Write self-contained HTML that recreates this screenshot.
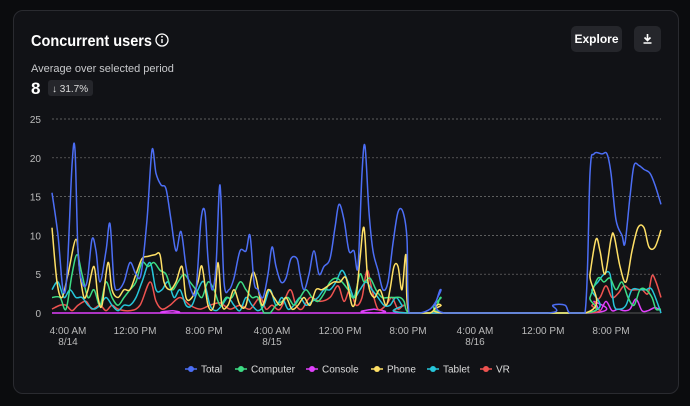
<!DOCTYPE html><html><head><style>
body{margin:0;background:#0b0c0e;width:690px;height:406px;overflow:hidden;font-family:"Liberation Sans",sans-serif;color:#fff}
.card{position:absolute;left:13px;top:10px;width:664px;height:382px;border:1px solid #2a2b30;border-radius:10px;background:#111216}
</style></head><body>
<div class="card"></div>
<svg width="690" height="406" style="position:absolute;left:0;top:0" id="s">
<text x="31" y="46" font-size="16" font-weight="bold" fill="#fff" textLength="121" lengthAdjust="spacingAndGlyphs">Concurrent users</text>
<circle cx="162" cy="40" r="6" fill="none" stroke="#fff" stroke-width="1.3"/>
<rect x="161.3" y="39" width="1.4" height="4" fill="#fff"/><circle cx="162" cy="36.8" r="0.9" fill="#fff"/>
<rect x="571" y="26" width="51" height="26" rx="5" fill="#25262b"/>
<text x="596.5" y="43" font-size="12" font-weight="bold" fill="#fff" text-anchor="middle">Explore</text>
<rect x="634" y="26" width="27" height="26" rx="5" fill="#25262b"/>
<path d="M647.5 34v6M644.5 37.5l3 3 3-3M643.5 43h8" stroke="#fff" stroke-width="1.6" fill="none"/>
<text x="31" y="72" font-size="11" fill="#c8c9cc">Average over selected period</text>
<text x="31" y="94" font-size="17" font-weight="bold" fill="#fff">8</text>
<rect x="48" y="80" width="45" height="16" rx="3" fill="#25262b"/>
<text x="52" y="92" font-size="10" fill="#ddd">↓ 31.7%</text>
<g id="g"></g>
</svg>
<script>
const g=document.getElementById('g');let h='';
const Y=v=>313-v*7.76;
[0,5,10,15,20,25].forEach(v=>{h+=`<text x="41" y="${Y(v)+4}" font-size="10" fill="#bbb" text-anchor="end">${v}</text>`;
if(v>0)h+=`<line x1="52" x2="661" y1="${Y(v)}" y2="${Y(v)}" stroke="#777" stroke-dasharray="2,2" stroke-width="0.7"/>`});
h+=`<line x1="52" x2="661" y1="313" y2="313" stroke="#555"/>`;
[[68,'4:00 AM','8/14'],[135,'12:00 PM'],[204,'8:00 PM'],[272,'4:00 AM','8/15'],[340,'12:00 PM'],[408,'8:00 PM'],[475,'4:00 AM','8/16'],[543,'12:00 PM'],[611,'8:00 PM']].forEach(a=>{
h+=`<text x="${a[0]}" y="334" font-size="10" fill="#bbb" text-anchor="middle">${a[1]}</text>`;if(a[2])h+=`<text x="${a[0]}" y="345" font-size="10" fill="#bbb" text-anchor="middle">${a[2]}</text>`});
const C=y=>Math.min(313,y);
function P(a){const p=[];for(let i=0;i<a.length;i+=2)p.push([a[i],Y(a[i+1])]);let d=`M${p[0][0]} ${p[0][1]}`;
for(let i=0;i<p.length-1;i++){const p0=p[i-1]||p[i],p1=p[i],p2=p[i+1],p3=p[i+2]||p2;
let c1=C(p1[1]+(p2[1]-p0[1])/6),c2=C(p2[1]-(p3[1]-p1[1])/6);
if(p1[1]==313&&p2[1]==313){c1=313;c2=313}
d+=`C${p1[0]+(p2[0]-p0[0])/6} ${c1} ${p2[0]-(p3[0]-p1[0])/6} ${c2} ${p2[0]} ${p2[1]}`}return d}
const S={
'#e040fb':[52,0,170,0,173,.3,176,0,370,0,374,.5,378,0,590,0,594,1.5,600,.3,606,1.5,612,.3,618,.5,624,.3,630,.5,636,1.8,642,.3,648,.3,655,.7,661,.3],
'#ef5350':[52,.5,60,1,66,1,72,.3,78,1,86,1.5,92,.5,100,1,106,.3,112,1,118,.5,130,.3,140,1,150,4,156,1.5,162,.5,170,1,180,2,190,1,200,.5,210,1,220,1.3,230,.5,240,1,250,.5,260,2,266,.5,272,1,280,.5,290,3,296,1,302,.5,310,2,320,1.5,330,2,338,3.5,344,1.5,350,3,356,1,362,2,367,5.5,372,3,378,.5,386,1,392,2,398,.5,404,1,409,0,585,0,592,1,600,2,606,3.5,612,2,618,2.5,624,3.5,630,3,636,3,642,3,648,2.5,652,4.8,656,4,661,2],
'#26c6da':[52,3,58,4,64,2,70,3,76,2,82,2,88,1,94,.5,100,1,106,2,112,1,118,.3,124,1,130,1,136,2,142,4,150,6.5,156,3,162,3,168,4,174,2,180,3,186,1,192,1,198,3,204,4,210,1,216,.3,222,1,228,2,234,1,240,.3,246,2,252,1,258,.3,264,1,270,3,276,1,282,2,288,.5,294,1,300,2,306,1,312,1.5,318,2,324,3,330,3,336,4,342,5.5,348,4,354,2,360,3,366,4,372,3,378,2,384,1,390,1,396,2,402,1,408,0,585,0,592,3,598,4,604,5,610,5,614,1,620,.5,626,1,632,3,640,3,646,3,652,3,661,0],
'#3ddc84':[52,2,60,2,66,.5,72,5,77,7.5,82,5,88,2,94,3,100,1,106,4,112,2,118,1,124,2,130,3,136,4,142,6.5,148,6,154,6.5,160,5.5,166,5,172,3,178,4,184,5,190,4,196,3,202,2,208,4,214,3,220,1,226,2,232,2,240,4,246,3,252,2,258,2,264,0,270,0,276,1,282,1.5,288,2,294,1,300,2,306,3,312,2,318,1.5,324,2.5,330,4,336,4.5,342,4,348,3,354,2,360,5,364,4,370,4.5,376,3,382,2,388,2,394,2,400,2,404,1.5,409,0,430,0,437,1,441,2,445,0,585,0,590,2,598,4.5,604,4,610,4.5,616,3,622,4,628,2,634,1,640,3,646,3,652,2,656,.5,661,.5],
'#ffe066':[52,11,57,4,62,2,68,5,76,9.5,80,5,84,2,88,3,94,6,98,2,102,1,108,6.5,112,3,118,2,124,3,130,3,136,5,142,7,148,7.3,155,7.5,160,7.5,164,4,170,3,176,4,182,6,186,2,192,2,198,4,202,6,208,1,214,1,218,6.5,222,1,228,1,234,3,240,1,246,1,252,5,256,4.5,262,1,268,3,274,2,280,1,286,2,292,.5,298,1,304,2,310,1,316,3,322,3,328,3.5,334,4,340,4,346,4.5,352,1,356,2,360,7,364,11,368,4,374,2,380,3,386,1,390,3,394,6,398,6,402,3,406,7.5,409,0,430,0,437,1,441,1,445,0,585,0,590,5,596,9.5,600,8,605,5,611,9.5,614,10,620,6,626,4,632,8,638,11,644,11,649,8.5,655,8.5,661,10.7],
'#4c6ef5':[52,15.5,58,10,63,3,67,5,72,19,75,21,78,8,82,4,87,4,92,9.5,96,8,100,4,106,8,110,11.5,114,4,118,3,124,4,130,6.5,136,5,141,5,147,12,152,21,156,18,161,16.5,166,16,171,12,176,8,181,10.5,186,6,191,3,196,3,201,12,205,13,208,7,212,3,216,6,220,16.5,224,4,229,3,234,4.5,240,8,246,8,250,10,254,4,258,3,263,2,268,5,272,8.5,276,6,281,4,286,4.5,291,7,297,7,300,5,304,3,309,5,314,8,319,5,324,6,330,7,335,11,339,14,344,12,349,8,354,8,358,6,362,18,365,21.5,369,13,373,8,378,5.5,383,3,388,4,393,9,398,13,403,13,407,9.5,409,0,420,0,430,.5,436,1.5,441,3,444,0,548,0,553,1,565,1,570,0,585,0,590,18,594,20.5,602,20.5,607,20.5,611,18,616,12,622,10,625,9,630,15,634,19,639,19,644,18.5,650,18,655,16.5,661,14]};
for(const c in S)h+=`<path d="${P(S[c])}" fill="none" stroke="${c}" stroke-width="1.5"/>`;
[['Total','#4c6ef5',191],['Computer','#3ddc84',241],['Console','#e040fb',312],['Phone','#ffe066',377],['Tablet','#26c6da',433],['VR','#ef5350',486]].forEach(([n,c,x])=>{
h+=`<line x1="${x-6}" x2="${x+6}" y1="369" y2="369" stroke="${c}" stroke-width="1.5"/><circle cx="${x}" cy="369" r="3" fill="${c}"/><text x="${x+10}" y="372.5" font-size="10" fill="#ddd">${n}</text>`;});
g.innerHTML=h;
</script>
</body></html>
